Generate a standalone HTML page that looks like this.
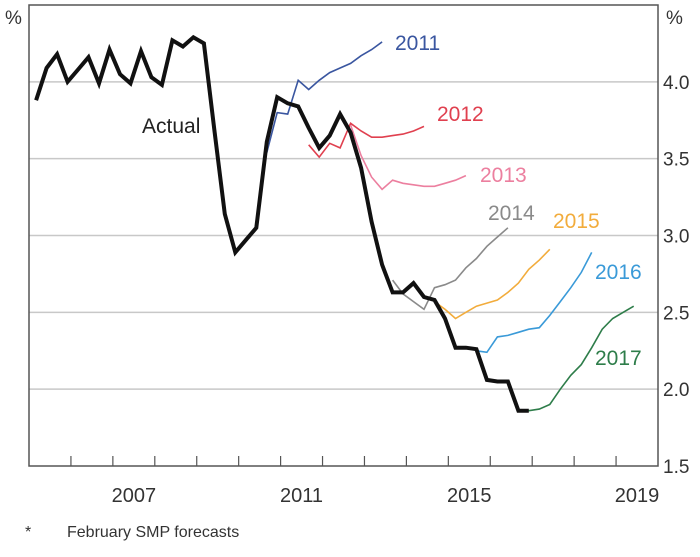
<!DOCTYPE html>
<html><head><meta charset="utf-8"><style>
body{margin:0;background:#fff;width:700px;height:552px;overflow:hidden;font-family:"Liberation Sans",sans-serif}
svg text{font-family:"Liberation Sans",sans-serif}
</style></head><body>
<svg id="chart" width="700" height="552" viewBox="0 0 700 552" xmlns="http://www.w3.org/2000/svg">
<g id="grid"></g>
<g id="series"></g>
<g id="axes"></g>
<text x="5" y="24" font-size="19" fill="#333">%</text>
<text x="666" y="24" font-size="19" fill="#333">%</text>
<text x="25" y="537" font-size="16" fill="#333">*</text>
<text x="67" y="537" font-size="16" fill="#333">February SMP forecasts</text>
</svg>
<script>
const yTicks=[1.5,2.0,2.5,3.0,3.5,4.0];
const xLabels=[2007,2011,2015,2019];
const actual=[3.88,4.09,4.18,4.00,4.08,4.16,3.99,4.21,4.05,3.99,4.20,4.03,3.98,4.27,4.23,4.29,4.25,3.69,3.14,2.89,2.97,3.05,3.61,3.90,3.86,3.84,3.70,3.57,3.65,3.79,3.67,3.44,3.09,2.81,2.63,2.63,2.69,2.60,2.58,2.46,2.27,2.27,2.26,2.06,2.05,2.05,1.86,1.86];
const f2011=[3.54,3.80,3.79,4.01,3.95,4.01,4.06,4.09,4.12,4.17,4.21,4.26];
const f2012=[3.59,3.51,3.60,3.57,3.73,3.68,3.64,3.64,3.65,3.66,3.68,3.71];
const f2013=[3.72,3.52,3.38,3.30,3.36,3.34,3.33,3.32,3.32,3.34,3.36,3.39];
const f2014=[2.71,2.62,2.57,2.52,2.66,2.68,2.71,2.79,2.85,2.93,2.99,3.05];
const f2015=[2.57,2.52,2.46,2.50,2.54,2.56,2.58,2.63,2.69,2.78,2.84,2.91];
const f2016=[2.25,2.24,2.34,2.35,2.37,2.39,2.40,2.48,2.57,2.66,2.76,2.89];
const f2017=[1.86,1.86,1.87,1.90,2.00,2.09,2.16,2.27,2.39,2.46,2.50,2.54];
const forecastStarts=[22,26,30,34,38,42,46];
const forecastNames=["2011","2012","2013","2014","2015","2016","2017"];
const forecastColors=["#3a56a0","#e0404f","#ec7f9f","#8a8a8a","#f2ac3c","#3a9ad8","#2e7d4a"];
const forecastSeries=[f2011,f2012,f2013,f2014,f2015,f2016,f2017];
const labelPos=[[395,50],[437,121],[480,182],[488,220],[553,228],[595,279],[595,365]];

const NS="http://www.w3.org/2000/svg";
const L=29,R=658,T=5,B=466;
const x=t=>L+(t-2005)*(R-L)/15;
const y=v=>B-(v-1.5)*(B-T)/3;
const qt=i=>2005.17+i*0.25;
function mk(tag,attrs,parent){const e=document.createElementNS(NS,tag);for(const k in attrs)e.setAttribute(k,attrs[k]);parent.appendChild(e);return e;}
const grid=document.getElementById('grid'),axes=document.getElementById('axes'),ser=document.getElementById('series');
yTicks.forEach(v=>{
  if(v>1.5){const g=mk('line',{x1:L,x2:R,y1:y(v),y2:y(v),stroke:'#c8c8c8','stroke-width':1.5},grid);
  
  }
  const t=mk('text',{x:R+5,y:y(v)+7,'font-size':19,fill:'#333'},axes);
  t.textContent=v.toFixed(1);
  
  
});
const fr=mk('rect',{x:L,y:T,width:R-L,height:B-T,fill:'none',stroke:'#555','stroke-width':1.5},axes);


for(let yr=2006;yr<=2019;yr++){
  const tk=mk('line',{x1:x(yr),x2:x(yr),y1:B,y2:B-10,stroke:'#555','stroke-width':1.2},axes);
  
  
}
xLabels.forEach(yr=>{
  const t=mk('text',{x:x(yr+0.5),y:502,'font-size':20,fill:'#333','text-anchor':'middle'},axes);
  t.textContent=yr;
  
  
});
function pts(arr,start){return arr.map((v,i)=>x(qt(start+i)).toFixed(1)+','+y(v).toFixed(1)).join(' ');}
forecastSeries.forEach((arr,k)=>{
  const p=mk('polyline',{points:pts(arr,forecastStarts[k]),fill:'none',stroke:forecastColors[k],'stroke-width':1.6},ser);
  
  
  const t=mk('text',{x:labelPos[k][0],y:labelPos[k][1],'font-size':21,fill:forecastColors[k]},ser);
  t.textContent=forecastNames[k];
  
  
});
const a=mk('polyline',{points:pts(actual,0),fill:'none',stroke:'#111','stroke-width':4,'stroke-linejoin':'miter'},ser);


const at=mk('text',{x:142,y:133,'font-size':21,fill:'#222'},ser);
at.textContent='Actual';


</script>
</body></html>
